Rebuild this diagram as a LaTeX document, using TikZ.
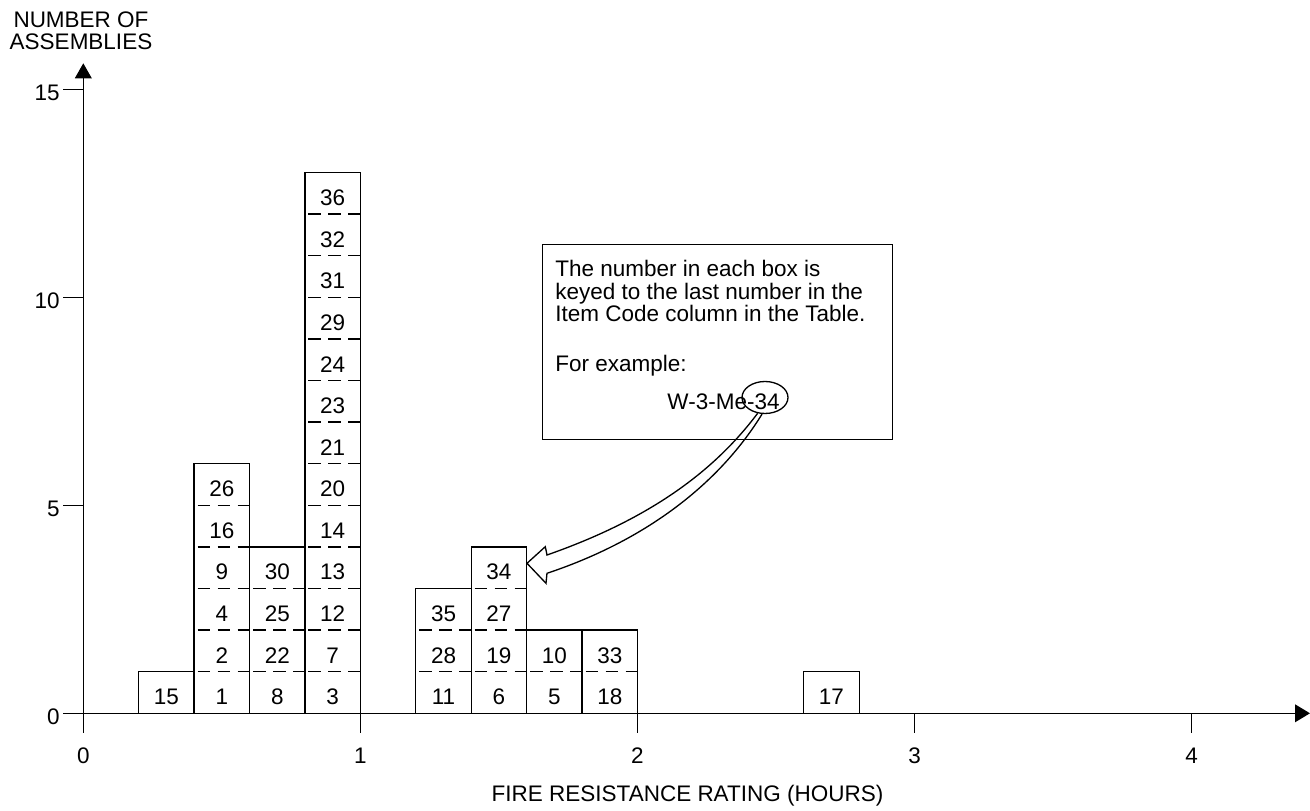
\documentclass[tikz,border=0pt]{standalone}
\usepackage{fontspec}
\setmainfont{Liberation Sans}
\usetikzlibrary{arrows.meta, positioning, calc, shapes.geometric}

\tikzset{
  every node/.style={font=\fontsize{12.8pt}{12.8pt}\selectfont},
  barline/.style={line width=0.75pt},
  celldash/.style={line width=0.75pt, dash pattern=on 0.25cm off 0.15cm, dash phase=0.33cm},
  cellnum/.style={inner sep=0pt, minimum width=1.108cm, yshift=-0.09cm},
  ticklabel/.style={inner sep=0pt},
  notebox/.style={draw, line width=0.75pt, minimum width=7cm, minimum height=3.9cm, inner sep=0pt}
}

% one stacked column: left edge, height, labels from bottom up
\newcommand{\barcol}[3]{
  \draw[barline] (#1,0) rectangle ({#1+0.2},#2);
  \foreach \lab [count=\i] in {#3} {
    \node[cellnum] (c\lab) at ({#1+0.1},{\i-0.5}) {\lab};
    \ifnum\i>1 \draw[celldash] (#1,{\i-1}) -- ({#1+0.2},{\i-1}); \fi
  }
}

\begin{document}
\begin{tikzpicture}[x=5.542cm, y=0.832cm]
  \path[use as bounding box, fill=white] (-1.666cm,-1.954cm) rectangle (24.534cm,14.266cm);

  % columns
  \barcol{0.2}{1}{15}
  \barcol{0.4}{6}{1,2,4,9,16,26}
  \barcol{0.6}{4}{8,22,25,30}
  \barcol{0.8}{13}{3,7,12,13,14,20,21,23,24,29,31,32,36}
  \barcol{1.2}{3}{11,28,35}
  \barcol{1.4}{4}{6,19,27,34}
  \barcol{1.6}{2}{5,10}
  \barcol{1.8}{2}{18,33}
  \barcol{2.6}{1}{17}

  % axes
  \coordinate (origin) at (0,0);
  \coordinate (ybot) at (0,-0.388cm);
  \coordinate (ytop) at (0,13.0cm);
  \coordinate (xbeg) at (-0.4cm,0);
  \coordinate (xend) at (24.534cm,0);
  \draw[barline, -{Triangle[length=0.3cm, width=0.334cm]}] (ybot) -- (ytop);
  \draw[barline, -{Triangle[length=0.3cm, width=0.354cm]}] (xbeg) -- (xend);
  \foreach \y in {5,10,15} {
    \draw[barline] (-0.4cm,\y) -- (0,\y);
  }
  \foreach \y in {0,5,10,15} {
    \node[ticklabel, anchor=east] (ylab\y) at ([yshift=-0.07cm]-0.466cm,\y) {\y};
  }
  \foreach \x in {1,2,3,4} {
    \draw[barline] (\x,0) -- (\x,-0.4cm);
  }
  \foreach \x in {0,1,2,3,4} {
    \node[ticklabel] (xlab\x) at ([yshift=-0.845cm]\x,0) {\x};
  }
  \node[align=center, inner sep=0pt] (ytitle) at (-0.046cm,13.648cm) {NUMBER OF\\ASSEMBLIES};
  \node[inner sep=0pt] (xtitle) at (12.084cm,-1.654cm) {FIRE RESISTANCE RATING (HOURS)};

  % key note
  \node[notebox, anchor=north west] (note) at (9.168cm,9.386cm) {};
  \node[align=left, inner sep=0pt, anchor=base west] (notetext) at ($(note.north west)+(0.266cm,-2.554cm)$)
    {The number in each box is\\ keyed to the last number in the\\ Item Code column in the Table.\\[0.554cm] For example:};
  \node[inner sep=0pt, anchor=base] (code) at (12.804cm,6.066cm) {W-3-Me-34};
  \node[draw, ellipse, line width=0.75pt, minimum width=0.92cm, minimum height=0.64cm, inner sep=0pt] (key) at (13.634cm,6.316cm) {};

  % hollow arrow to the box
  \coordinate (tip) at ($(c34.east)+(0,0.178cm)$);
  \draw[barline, line join=miter] (key.245) .. controls +(-0.9cm,-1.2cm) and +(2.0cm,0.7cm) .. ($(tip)+(0.4cm,0.166cm)$)
    -- ($(tip)+(0.366cm,0.332cm)$) -- (tip) -- ($(tip)+(0.38cm,-0.4cm)$) -- ($(tip)+(0.4cm,-0.2cm)$)
    .. controls +(2.1cm,0.7cm) and +(-0.8cm,-1.3cm) .. (key.260);
\end{tikzpicture}
\end{document}
